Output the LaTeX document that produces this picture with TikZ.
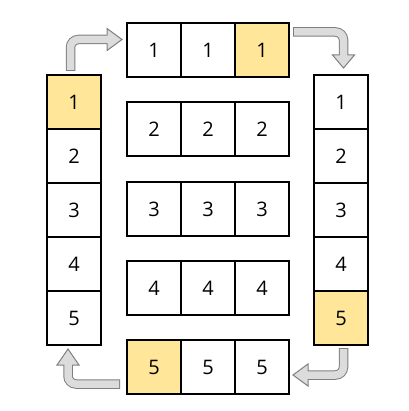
\documentclass[tikz,border=0pt]{standalone}
\usepackage{fontspec}
\setmainfont{Open Sans}
\definecolor{cellyellow}{HTML}{FFE699}
\definecolor{arrowfill}{HTML}{DCDCDC}
\definecolor{arrowline}{HTML}{7F7F7F}
\begin{document}
\begin{tikzpicture}[x=1pt,y=-1pt,
  cell/.style={draw=black, line width=2pt, minimum width=54pt, minimum height=54pt, inner sep=0pt, font=\fontsize{20}{24}\selectfont},
  hl/.style={cell, fill=cellyellow},
  shaftout/.style={draw=arrowline, line width=9.5pt, rounded corners=8pt, line cap=butt},
  shaftin/.style={draw=arrowfill, line width=7.5pt, rounded corners=8pt, line cap=butt},
  head/.style={fill=arrowfill, draw=arrowline, line width=1pt, line join=miter}]
\useasboundingbox (0,0) rectangle (408,411);
% highlighted cells first, so that neighbours' borders stay whole
\node[hl]   (L1) at (74,102) {1};
\node[hl]   (R5) at (341,318) {5};
\node[hl]   (A3) at (262,50) {1};
\node[hl]   (E1) at (154,367) {5};
% left column
\node[cell] (L2) at (74,156) {2};
\node[cell] (L3) at (74,210) {3};
\node[cell] (L4) at (74,264) {4};
\node[cell] (L5) at (74,318) {5};
% right column
\node[cell] (R1) at (341,102) {1};
\node[cell] (R2) at (341,156) {2};
\node[cell] (R3) at (341,210) {3};
\node[cell] (R4) at (341,264) {4};
% rows
\node[cell] (A1) at (154,50) {1};
\node[cell] (A2) at (208,50) {1};
\node[cell] (B1) at (154,129) {2};
\node[cell] (B2) at (208,129) {2};
\node[cell] (B3) at (262,129) {2};
\node[cell] (C1) at (154,209) {3};
\node[cell] (C2) at (208,209) {3};
\node[cell] (C3) at (262,209) {3};
\node[cell] (D1) at (154,288) {4};
\node[cell] (D2) at (208,288) {4};
\node[cell] (D3) at (262,288) {4};
\node[cell] (E2) at (208,367) {5};
\node[cell] (E3) at (262,367) {5};
% arrow 1: top-left, up then right
\draw[shaftout] (70.5,71) -- (70.5,39.5) -- (107,39.5);
\draw[head] (107,28.5) -- (122,39.5) -- (107,50.5) -- cycle;
\draw[shaftin] (70.5,70) -- (70.5,39.5) -- (108.5,39.5);
% arrow 2: top-right, right then down
\draw[shaftout] (293,32) -- (343.5,32) -- (343.5,55);
\draw[head] (332.5,55) -- (343.5,68) -- (354.5,55) -- cycle;
\draw[shaftin] (294,32) -- (343.5,32) -- (343.5,56.5);
% arrow 3: bottom-right, down then left
\draw[shaftout] (343.5,348) -- (343.5,375) -- (308,375);
\draw[head] (308,364) -- (293,375) -- (308,386) -- cycle;
\draw[shaftin] (343.5,349) -- (343.5,375) -- (306.5,375);
% arrow 4: bottom-left, left then up
\draw[shaftout] (120,384) -- (68,384) -- (68,365);
\draw[head] (57,365) -- (68,349) -- (79,365) -- cycle;
\draw[shaftin] (119,384) -- (68,384) -- (68,363.5);
\end{tikzpicture}
\end{document}
